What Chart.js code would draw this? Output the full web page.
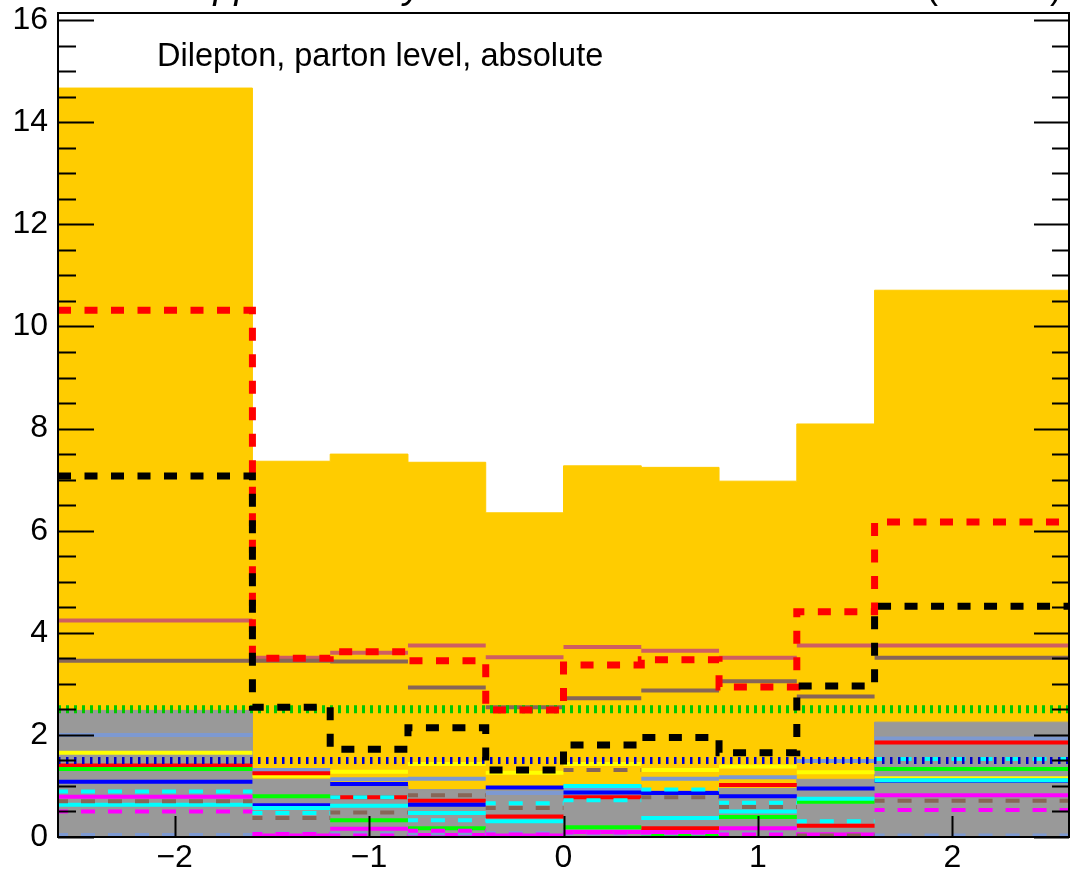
<!DOCTYPE html>
<html>
<head>
<meta charset="utf-8">
<script src="https://cdn.jsdelivr.net/npm/chart.js@4.4.1/dist/chart.umd.min.js"></script>
<style>
  html, body { margin: 0; padding: 0; background: #fff; }
  canvas { display: block; }
</style>
</head>
<body>
<canvas id="chart" width="1071" height="875"></canvas>
<script>
// ---- data ----
const binEdges = [-2.6, -1.6, -1.2, -0.8, -0.4, 0, 0.4, 0.8, 1.2, 1.6, 2.6];
const xTicks = [-2, -1, 0, 1, 2];
const yTicks = [0, 2, 4, 6, 8, 10, 12, 14, 16];

// filled histograms
const totalFill = [14.67, 7.36, 7.50, 7.34, 6.35, 7.27, 7.24, 6.97, 8.09, 10.71];
const grayFill  = [2.48, 1.13, 1.02, 0.93, 0.92, 1.02, 0.90, 0.95, 1.13, 2.25];

// thick dashed step lines
const redDashed   = [10.32, 3.50, 3.63, 3.45, 2.49, 3.37, 3.47, 2.94, 4.41, 6.17];
const blackDashed = [7.07, 2.54, 1.72, 2.14, 1.31, 1.80, 1.95, 1.65, 2.96, 4.52];

// dotted reference lines
const greenDotted = [2.5, 2.5, 2.5, 2.5, 2.5, 2.5, 2.5, 2.5, 2.5, 2.5];
const blueDotted  = [1.5, 1.5, 1.5, 1.5, 1.5, 1.5, 1.5, 1.5, 1.5, 1.5];

// solid per-bin lines
const indianRed    = [4.24, 3.51, 3.61, 3.75, 3.52, 3.72, 3.65, 3.51, 3.75, 3.75];
const brownSolid   = [3.45, 3.45, 3.44, 2.93, 2.54, 2.72, 2.87, 3.05, 2.75, 3.51];
const steelSolid   = [2.00, 1.31, 1.13, 1.14, 0.86, 0.93, 1.14, 1.17, 1.49, 1.93];
const yellowSolid  = [1.65, 1.20, 1.28, 1.43, 1.26, 1.43, 1.31, 1.38, 1.27, 1.15];
const redSolid     = [1.40, 1.25, 0.78, 0.71, 0.40, 0.78, 0.17, 1.02, 0.22, 1.85];
const greenSolid   = [1.33, 0.80, 0.33, 0.17, 0.02, 0.19, 0.05, 0.39, 0.69, 1.33];
const blueSolid    = [1.08, 0.62, 1.04, 0.63, 0.97, 0.87, 0.86, 0.80, 0.95, 1.10];
const cyanSolid    = [0.63, 0.57, 0.61, 0.47, 0.31, 1.00, 0.37, 0.50, 0.75, 1.11];
const magentaSolid = [0.79, 0.03, 0.16, 0.04, 0.03, 0.10, 0.10, 0.17, 0.05, 0.82];

// thin dashed per-bin lines
const steelDashed   = [0.04, 0.07, 0.07, 0.07, 0.08, 0.07, 0.07, 0.07, 0.04, 0.03];
const magentaDashed = [0.50, 0.06, 0.03, 0.12, 0.05, 0.09, 0.09, 0.05, 0.05, 0.53];
const brownDashed   = [0.70, 0.37, 0.48, 0.82, 0.57, 1.31, 0.78, 0.59, 0.03, 0.71];
const cyanDashed    = [0.89, 0.47, 0.78, 0.33, 0.66, 0.72, 0.93, 0.67, 0.31, 1.53];

const FONT = '"Liberation Sans", Arial, Helvetica, sans-serif';

// histogram outline: one point per left edge plus the last right edge
function stepPoints(values) {
    const pts = values.map((v, i) => ({ x: binEdges[i], y: v }));
    pts.push({ x: binEdges[binEdges.length - 1], y: values[values.length - 1] });
    return pts;
}

// horizontal segment per bin, no risers (gap after each bin)
function segPoints(values) {
    const pts = [];
    values.forEach((v, i) => {
        pts.push({ x: binEdges[i], y: v }, { x: binEdges[i + 1], y: v }, { x: binEdges[i + 1], y: null });
    });
    return pts;
}

function filled(values, color) {
    return { data: stepPoints(values), stepped: true, fill: 'origin',
             backgroundColor: color, borderColor: color, borderWidth: 1 };
}
function stepLine(values, color, width, dash) {
    return { data: stepPoints(values), stepped: true, fill: false,
             borderColor: color, borderWidth: width, borderDash: dash || [] };
}
function segLine(values, color, width, dash) {
    return { data: segPoints(values), fill: false, spanGaps: false,
             borderColor: color, borderWidth: width, borderDash: dash || [], borderDashOffset: dash ? 4 : 0 };
}

// listed bottom to top
const layers = [
    filled(totalFill, '#FFCC00'),
    filled(grayFill, '#999999'),
    segLine(steelSolid, '#7D99D1', 4),
    segLine(yellowSolid, '#FFFF00', 4),
    segLine(redSolid, '#FF0000', 4),
    segLine(greenSolid, '#00FF00', 4),
    segLine(blueSolid, '#0000FF', 4),
    segLine(cyanSolid, '#00FFFF', 4),
    segLine(magentaSolid, '#FF00FF', 4),
    segLine(indianRed, '#CF5E61', 4),
    segLine(brownSolid, '#876657', 4),
    segLine(steelDashed, '#7D99D1', 4, [14, 13]),
    segLine(magentaDashed, '#FF00FF', 4, [14, 13]),
    segLine(brownDashed, '#876657', 4, [14, 13]),
    segLine(cyanDashed, '#00FFFF', 4, [14, 13]),
    stepLine(greenDotted, '#00C800', 8, [3, 5]),
    stepLine(blueDotted, '#0000CC', 7, [2.5, 5.5]),
    stepLine(redDashed, '#FF0000', 7, [13, 13.5]),
    stepLine(blackDashed, '#000000', 7, [13, 13.5])
];
layers.forEach((d, i) => {
    d.order = layers.length - i;
    d.pointRadius = 0;
    d.pointHoverRadius = 0;
});

// ROOT-like frame with inward ticks on both y sides and bottom
const rootFrame = {
    id: 'rootFrame',
    afterDatasetsDraw(chart) {
        const { ctx, chartArea: a, scales: { x, y } } = chart;
        ctx.save();
        ctx.strokeStyle = '#000';
        ctx.lineWidth = 2;
        ctx.beginPath();
        // y ticks: major every 2, minor every 0.5
        yTicks.forEach((t, i) => {
            let py = Math.round(y.getPixelForValue(t)) + 0.5;
            ctx.moveTo(a.left, py); ctx.lineTo(a.left + 36, py);
            ctx.moveTo(a.right, py); ctx.lineTo(a.right - 35, py);
            if (i < yTicks.length - 1) {
                const step = (yTicks[i + 1] - t) / 4;
                for (let k = 1; k < 4; k++) {
                    py = Math.round(y.getPixelForValue(t + k * step)) + 0.5;
                    ctx.moveTo(a.left, py); ctx.lineTo(a.left + 18, py);
                    ctx.moveTo(a.right, py); ctx.lineTo(a.right - 17, py);
                }
            }
        });
        xTicks.forEach(t => {
            const px = Math.round(x.getPixelForValue(t)) + 0.5;
            ctx.moveTo(px, a.bottom); ctx.lineTo(px, a.bottom - 21);
        });
        ctx.stroke();
        ctx.strokeRect(a.left, a.top, a.right - a.left, a.bottom - a.top);
        ctx.restore();
    },
    afterDraw(chart) {
        const { ctx } = chart;
        ctx.save();
        ctx.fillStyle = '#000';
        ctx.textBaseline = 'alphabetic';
        // header, cut off at the top of the image (only descenders show)
        ctx.font = 'bold 38px ' + FONT;
        ctx.fillText('CMS', 72, -2);
        const w = ctx.measureText('CMS ').width;
        ctx.font = 'italic 38px ' + FONT;
        ctx.fillText('Supplementary', 72 + w, -2);
        ctx.font = '36px ' + FONT;
        ctx.textAlign = 'right';
        ctx.fillText('(13 TeV)', 1062, -2);
        // in-frame label
        ctx.textAlign = 'left';
        ctx.font = '32.5px ' + FONT;
        ctx.fillText('Dilepton, parton level, absolute', 157, 66);
        ctx.restore();
    }
};

const minusLabel = v => (v < 0 ? '\u2212' + Math.abs(v) : String(v));

new Chart(document.getElementById('chart'), {
    type: 'line',
    data: { datasets: layers },
    plugins: [rootFrame],
    options: {
        responsive: false,
        animation: false,
        events: [],
        layout: { padding: { top: 13, right: 2, left: 0, bottom: 0 } },
        plugins: { legend: { display: false }, tooltip: { enabled: false } },
        scales: {
            x: {
                type: 'linear',
                min: binEdges[0],
                max: binEdges[binEdges.length - 1],
                grid: { display: false, drawTicks: false },
                border: { display: false },
                afterBuildTicks: s => { s.ticks = xTicks.map(v => ({ value: v })); },
                afterFit: s => { s.height = 38; s.paddingLeft = 0; s.paddingRight = 0; },
                ticks: {
                    autoSkip: false, maxRotation: 0, padding: 5, color: '#000',
                    font: { family: FONT, size: 32, lineHeight: 1 },
                    callback: minusLabel
                }
            },
            y: {
                type: 'linear',
                min: 0,
                max: 16.14,
                grid: { display: false, drawTicks: false },
                border: { display: false },
                afterBuildTicks: s => { s.ticks = yTicks.map(v => ({ value: v })); },
                afterFit: s => { s.width = 58; s.paddingTop = 0; s.paddingBottom = 0; },
                ticks: {
                    autoSkip: false, padding: 10, color: '#000',
                    font: { family: FONT, size: 32, lineHeight: 1 },
                    callback: v => String(v)
                }
            }
        }
    }
});
</script>
</body>
</html>
